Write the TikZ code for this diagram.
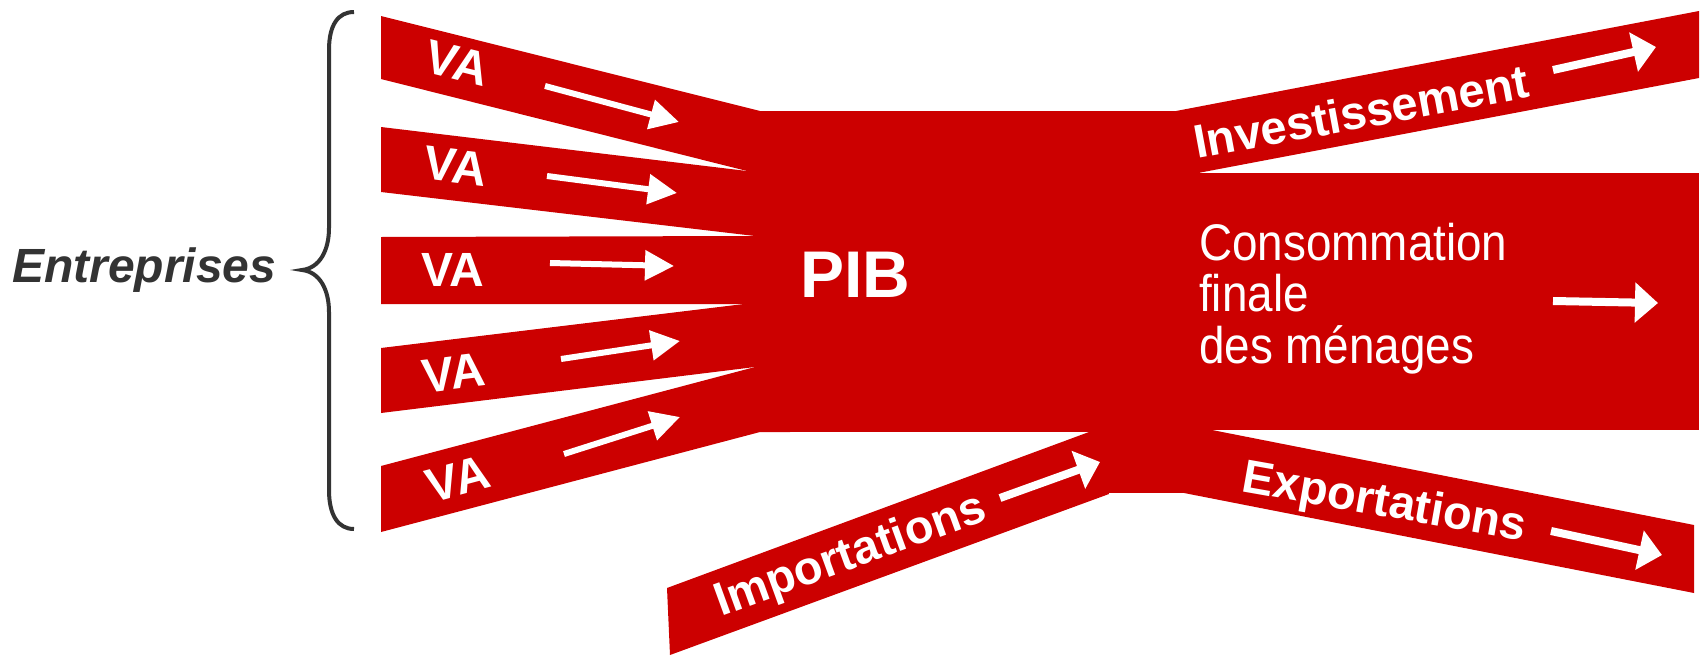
\documentclass[tikz,border=0pt]{standalone}
\usepackage{fontspec}
\setmainfont{Liberation Sans}
\newfontfamily\narrowfont[FakeStretch=0.89]{Liberation Sans}
\usetikzlibrary{arrows.meta}
\definecolor{pibred}{RGB}{204,0,0}
\definecolor{bracegray}{RGB}{51,51,51}
\tikzset{
  flux/.style={fill=pibred},
  accolade/.style={draw=bracegray, line width=4pt},
  petite fleche/.style={draw=white, line width=6pt, -{Triangle[length=29pt,width=29pt]}},
  grande fleche/.style={draw=white, line width=8pt, -{Triangle[length=23pt,width=39pt]}},
  va/.style={text=white, font=\fontsize{48}{48}\selectfont\bfseries, inner sep=0pt},
  poste/.style={text=white, font=\fontsize{47}{47}\selectfont\bfseries, inner sep=0pt, anchor=base},
}

\begin{document}
\begin{tikzpicture}[x=1pt, y=-1pt]
    \useasboundingbox (0,0) rectangle (1701,656);

    %%% Entreprises %%%
    \coordinate (haut) at (354,12);  \coordinate (pointe) at (302,270);  \coordinate (bas) at (354,529);
    \node[text=bracegray, font=\fontsize{48}{48}\selectfont\bfseries\itshape, anchor=base west, inner sep=0pt] (ent) at (12,282) {Entreprises};
    \draw[accolade] (haut) .. controls (338,12) and (329,25) .. (329,50) -- (329,228)
        .. controls (329,250) and (320,268) .. (pointe) .. controls (320,272) and (329,290) .. (329,312)
        -- (329,490) .. controls (329,515) and (338,529) .. (bas);

    %%% Valeurs ajoutees %%%
    \coordinate (A1) at (381,16);   \coordinate (B1) at (381,79);   \coordinate (C1) at (760,111);  \coordinate (D1) at (747,171);
    \coordinate (A2) at (381,127);  \coordinate (B2) at (381,192);  \coordinate (D2) at (755,236);
    \coordinate (A3) at (381,237);  \coordinate (B3) at (381,304);  \coordinate (D3) at (744,304);
    \coordinate (A4) at (381,348);  \coordinate (B4) at (381,413);  \coordinate (D4) at (755,367);
    \coordinate (A5) at (381,466);  \coordinate (B5) at (381,532);  \coordinate (D5) at (760,432);
    \fill[flux] (A1) -- (C1) -- (790,111) -- (790,171) -- (D1) -- (B1) -- cycle;
    \fill[flux] (A2) -- (D1) -- (790,171) -- (790,236) -- (D2) -- (B2) -- cycle;
    \fill[flux] (A3) -- (D2) -- (790,236) -- (790,304) -- (D3) -- (B3) -- cycle;
    \fill[flux] (A4) -- (D3) -- (790,304) -- (790,367) -- (D4) -- (B4) -- cycle;
    \fill[flux] (A5) -- (D4) -- (790,367) -- (790,432) -- (D5) -- (B5) -- cycle;
    \node[va, rotate=-14] (va1) at (457,63) {VA};
    \node[va, rotate=-7] (va2) at (456,166) {VA};
    \node[va] (va3) at (453,270) {VA};
    \node[va, rotate=7] (va4) at (454,373) {VA};
    \node[va, rotate=15] (va5) at (458,479) {VA};
    \coordinate (f1a) at (545,86);   \coordinate (f1b) at (679,122);
    \coordinate (f2a) at (547,176);  \coordinate (f2b) at (677,193);
    \coordinate (f3a) at (550,263);  \coordinate (f3b) at (674,266);
    \coordinate (f4a) at (561,359);  \coordinate (f4b) at (680,341);
    \coordinate (f5a) at (564,454);  \coordinate (f5b) at (680,417);
    \draw[petite fleche] (f1a) -- (f1b);  \draw[petite fleche] (f2a) -- (f2b);  \draw[petite fleche] (f3a) -- (f3b);
    \draw[petite fleche] (f4a) -- (f4b);  \draw[petite fleche] (f5a) -- (f5b);

    %%% PIB %%%
    \coordinate (P1) at (760,111);  \coordinate (P2) at (1200,432);
    \fill[flux] (P1) rectangle (P2);
    \fill[flux] (1089,420) rectangle (1212,493);
    \node[text=white, font=\fontsize{66}{66}\selectfont\bfseries, anchor=base west, inner sep=0pt] (pib) at (800,297) {PIB};

    %%% Emplois %%%
    \coordinate (I1) at (1176,111);  \coordinate (I2) at (1699,11);  \coordinate (I3) at (1699,78);  \coordinate (I4) at (1198,173);
    \fill[flux] (I1) -- (I2) -- (I3) -- (I4) -- (1176,173) -- cycle;
    \coordinate (K1) at (1190,173);  \coordinate (K2) at (1699,430);
    \fill[flux] (K1) rectangle (K2);
    \coordinate (E1) at (1212,430);  \coordinate (E2) at (1694,525);  \coordinate (E3) at (1694,593);  \coordinate (E4) at (1184,493);
    \fill[flux] (E1) -- (E2) -- (E3) -- (E4) -- (1184,430) -- cycle;
    \coordinate (M1) at (1089,432);  \coordinate (M2) at (1109,494);  \coordinate (M3) at (670,655);  \coordinate (M4) at (667,588);
    \fill[flux] (M1) -- (M2) -- (M3) -- (M4) -- cycle;

    \node[poste, rotate=10.5] (inv) at (1364,128) {Investissement};
    \node[poste, rotate=20] (imp) at (855,568) {Importations};
    \node[poste, rotate=-10] (exp) at (1382,516) {Exportations};
    \node[text=white, font=\narrowfont\fontsize{51.5}{51.5}\selectfont, align=left, anchor=base west, inner sep=0pt] (conso) at (1199,363) {Consommation\\finale\\des ménages};

    \coordinate (g1a) at (1553,70);   \coordinate (g1b) at (1656,47);
    \coordinate (g2a) at (1553,301);  \coordinate (g2b) at (1658,303);
    \coordinate (g3a) at (1000,498);  \coordinate (g3b) at (1100,462);
    \coordinate (g4a) at (1551,531);  \coordinate (g4b) at (1662,555);
    \draw[grande fleche] (g1a) -- (g1b);  \draw[grande fleche] (g2a) -- (g2b);
    \draw[grande fleche] (g3a) -- (g3b);  \draw[grande fleche] (g4a) -- (g4b);

\end{tikzpicture}
\end{document}
